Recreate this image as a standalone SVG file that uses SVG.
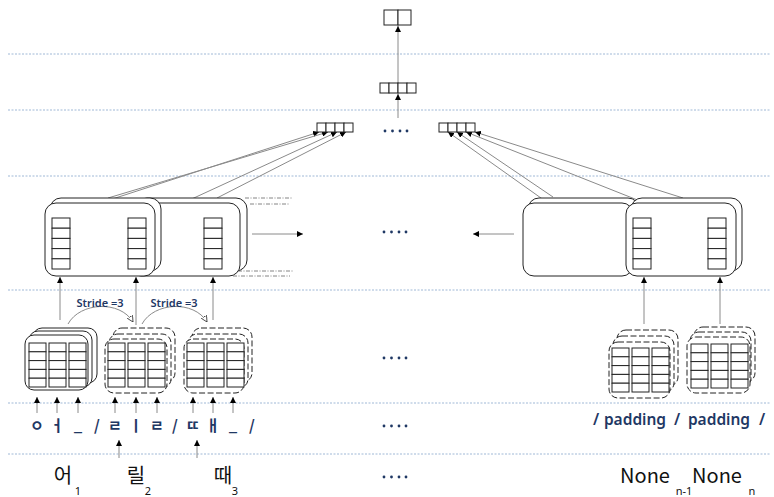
<svg xmlns="http://www.w3.org/2000/svg" width="774" height="497" viewBox="0 0 774 497">
<defs>
<style>
.guide{stroke:#9fb8d6;stroke-width:1;stroke-dasharray:2,1.5;fill:none}
.box{fill:#fff;stroke:#222;stroke-width:1}
.dbox{fill:#fff;stroke:#222;stroke-width:1;stroke-dasharray:6,2.5}
.cell{fill:#fff;stroke:#222;stroke-width:1}
.con{stroke:#8a8a8a;stroke-width:1;fill:none}
.dd{stroke:#666;stroke-width:0.8;stroke-dasharray:4,1.5,1,1.5;fill:none}
.dot{fill:#1f3864}
.jamo{font-family:"Noto Sans CJK KR","Noto Sans",sans-serif;font-size:15px;font-weight:bold;fill:#1f3864;text-anchor:middle}
.pad{font-family:"Noto Sans","Noto Sans CJK KR",sans-serif;font-size:15.5px;font-weight:600;fill:#1f3864;text-anchor:middle}
.syl{font-family:"Noto Sans CJK KR","Noto Sans",sans-serif;font-size:20px;fill:#111;text-anchor:middle}
.sub{font-family:"Noto Sans","Noto Sans CJK KR",sans-serif;font-size:11px;fill:#111;text-anchor:middle}
.stride{font-family:"Noto Sans","Open Sans",sans-serif;font-size:11px;font-weight:600;fill:#1f3864;text-anchor:middle}
</style>
<marker id="ah" viewBox="0 0 10 10" refX="10" refY="5" markerWidth="6" markerHeight="6" markerUnits="userSpaceOnUse" orient="auto"><path d="M0,0 L10,5 L0,10 z" fill="#000"/></marker>
<marker id="oh" viewBox="0 0 10 10" refX="10" refY="5" markerWidth="6" markerHeight="6" markerUnits="userSpaceOnUse" orient="auto"><path d="M0,0 L10,5 L0,10 z" fill="#fff" stroke="#222" stroke-width="1.2"/></marker>
<g id="col5"><rect class="cell" x="0" y="0" width="18" height="10.2"/><rect class="cell" x="0" y="10.2" width="18" height="10.2"/><rect class="cell" x="0" y="20.4" width="18" height="10.2"/><rect class="cell" x="0" y="30.6" width="18" height="10.2"/><rect class="cell" x="0" y="40.8" width="18" height="10.2"/></g>
<g id="grid"><g id="gcol"><rect class="cell" x="0" y="0" width="17" height="8.8"/><rect class="cell" x="0" y="8.8" width="17" height="8.8"/><rect class="cell" x="0" y="17.6" width="17" height="8.8"/><rect class="cell" x="0" y="26.4" width="17" height="8.8"/><rect class="cell" x="0" y="35.2" width="17" height="8.8"/></g><use href="#gcol" x="20"/><use href="#gcol" x="40"/></g>
</defs>
<rect width="774" height="497" fill="#fff"/>

<g id="guides">
<line class="guide" x1="8" y1="54" x2="770" y2="54"/>
<line class="guide" x1="8" y1="110" x2="770" y2="110"/>
<line class="guide" x1="8" y1="176" x2="770" y2="176"/>
<line class="guide" x1="8" y1="290" x2="770" y2="290"/>
<line class="guide" x1="8" y1="403" x2="770" y2="403"/>
<line class="guide" x1="8" y1="454" x2="770" y2="454"/>
</g>

<g id="connectors">
<line class="con" x1="398" y1="83" x2="398" y2="26" marker-end="url(#ah)"/>
<line class="con" x1="398" y1="118" x2="398" y2="94" marker-end="url(#ah)"/>
<line class="con" x1="100" y1="203" x2="319" y2="132" marker-end="url(#ah)"/>
<line class="con" x1="108" y1="198" x2="328" y2="132" marker-end="url(#ah)"/>
<line class="con" x1="183" y1="203" x2="337" y2="132" marker-end="url(#ah)"/>
<line class="con" x1="217" y1="198" x2="346" y2="132" marker-end="url(#ah)"/>
<line class="con" x1="548" y1="203" x2="448" y2="132" marker-end="url(#ah)"/>
<line class="con" x1="553" y1="197" x2="457" y2="132" marker-end="url(#ah)"/>
<line class="con" x1="645" y1="203" x2="466" y2="132" marker-end="url(#ah)"/>
<line class="con" x1="683" y1="198" x2="475" y2="132" marker-end="url(#ah)"/>
<line class="con" x1="252" y1="234" x2="303" y2="234" marker-end="url(#ah)"/>
<line class="con" x1="514" y1="234" x2="473" y2="234" marker-end="url(#ah)"/>
<line class="con" x1="60" y1="320" x2="60" y2="277" marker-end="url(#ah)"/>
<line class="con" x1="136" y1="325" x2="136" y2="277" marker-end="url(#ah)"/>
<line class="con" x1="213" y1="320" x2="213" y2="277" marker-end="url(#ah)"/>
<line class="con" x1="644" y1="324" x2="644" y2="277" marker-end="url(#ah)"/>
<line class="con" x1="720" y1="324" x2="720" y2="277" marker-end="url(#ah)"/>
<path class="con" d="M68,324 C80,302 120,300 133,322" stroke="#222" marker-end="url(#oh)"/>
<path class="con" d="M142,324 C154,302 194,300 207,322" stroke="#222" marker-end="url(#oh)"/>
<line class="con" x1="37" y1="413" x2="37" y2="397" marker-end="url(#ah)"/>
<line class="con" x1="57" y1="413" x2="57" y2="397" marker-end="url(#ah)"/>
<line class="con" x1="78" y1="413" x2="78" y2="397" marker-end="url(#ah)"/>
<line class="con" x1="115" y1="413" x2="115" y2="397" marker-end="url(#ah)"/>
<line class="con" x1="136" y1="413" x2="136" y2="397" marker-end="url(#ah)"/>
<line class="con" x1="157" y1="413" x2="157" y2="397" marker-end="url(#ah)"/>
<line class="con" x1="193" y1="413" x2="193" y2="397" marker-end="url(#ah)"/>
<line class="con" x1="213" y1="413" x2="213" y2="397" marker-end="url(#ah)"/>
<line class="con" x1="233" y1="413" x2="233" y2="397" marker-end="url(#ah)"/>
<line class="con" x1="119" y1="458" x2="119" y2="440" marker-end="url(#ah)"/>
<line class="con" x1="197" y1="458" x2="197" y2="440" marker-end="url(#ah)"/>
</g>

<g id="top-out">
<rect class="cell" x="384" y="10" width="14" height="15"/><rect class="cell" x="398" y="10" width="13" height="15"/>
</g>
<g id="fc">
<rect class="cell" x="380" y="83" width="9" height="10"/><rect class="cell" x="389" y="83" width="9" height="10"/><rect class="cell" x="398" y="83" width="9" height="10"/><rect class="cell" x="407" y="83" width="9" height="10"/>
</g>
<g id="pool-left">
<rect class="cell" x="317" y="123" width="9" height="9"/><rect class="cell" x="326" y="123" width="9" height="9"/><rect class="cell" x="335" y="123" width="9" height="9"/><rect class="cell" x="344" y="123" width="9" height="9"/>
</g>
<g id="pool-right">
<rect class="cell" x="439" y="123" width="9" height="9"/><rect class="cell" x="448" y="123" width="9" height="9"/><rect class="cell" x="457" y="123" width="9" height="9"/><rect class="cell" x="466" y="123" width="9" height="9"/>
</g>

<g id="dots">
<g class="dot"><circle cx="385" cy="131" r="1.4"/><circle cx="392.5" cy="131" r="1.4"/><circle cx="400" cy="131" r="1.4"/><circle cx="407" cy="131" r="1.4"/></g>
<g class="dot"><circle cx="384" cy="232" r="1.4"/><circle cx="391.5" cy="232" r="1.4"/><circle cx="399" cy="232" r="1.4"/><circle cx="406" cy="232" r="1.4"/></g>
<g class="dot"><circle cx="384" cy="358" r="1.4"/><circle cx="391.5" cy="358" r="1.4"/><circle cx="399" cy="358" r="1.4"/><circle cx="406" cy="358" r="1.4"/></g>
<g class="dot"><circle cx="384" cy="426" r="1.4"/><circle cx="391.5" cy="426" r="1.4"/><circle cx="399" cy="426" r="1.4"/><circle cx="406" cy="426" r="1.4"/></g>
<g class="dot"><circle cx="384" cy="477" r="1.4"/><circle cx="391.5" cy="477" r="1.4"/><circle cx="399" cy="477" r="1.4"/><circle cx="406" cy="477" r="1.4"/></g>
</g>

<g id="conv-left-2">
<rect class="box" x="136" y="198" width="111" height="73" rx="11"/>
<rect class="box" x="130" y="203" width="110" height="73" rx="11"/>
<use href="#col5" x="204" y="218"/>
<line class="dd" x1="245" y1="198" x2="293" y2="198"/>
<line class="dd" x1="250" y1="204" x2="290" y2="204"/>
<line class="dd" x1="238" y1="271" x2="293" y2="271"/>
<line class="dd" x1="233" y1="276" x2="290" y2="276"/>
</g>
<g id="conv-left-1">
<rect class="box" x="50" y="198" width="111" height="73" rx="11"/>
<rect class="box" x="45" y="203" width="110" height="73" rx="11"/>
<use href="#col5" x="52" y="218"/>
<use href="#col5" x="128" y="218"/>
</g>
<g id="conv-right-1">
<rect class="box" x="528" y="198" width="111" height="73" rx="11"/>
<rect class="box" x="523" y="203" width="110" height="73" rx="11"/>
</g>
<g id="conv-right-2">
<rect class="box" x="631" y="198" width="111" height="73" rx="11"/>
<rect class="box" x="626" y="203" width="110" height="73" rx="11"/>
<use href="#col5" x="633" y="218"/>
<use href="#col5" x="708" y="218"/>
</g>

<g id="stride-labels">
<text class="stride" x="100" y="307">Stride =3</text>
<text class="stride" x="174" y="307">Stride =3</text>
</g>

<g id="cube1">
<rect class="box" x="33" y="328" width="64" height="55" rx="9"/>
<rect class="box" x="29" y="331" width="63" height="56" rx="9"/>
<rect class="box" x="25" y="335" width="63" height="55" rx="9"/>
<use href="#grid" x="29" y="343"/>
</g>
<g id="cube2">
<rect class="dbox" x="113" y="328" width="62" height="54" rx="9"/>
<rect class="dbox" x="109" y="334" width="62" height="54" rx="9"/>
<rect class="dbox" x="105" y="339" width="62" height="54" rx="9"/>
<use href="#grid" x="108" y="343"/>
</g>
<g id="cube3">
<rect class="dbox" x="192" y="328" width="60" height="54" rx="9"/>
<rect class="dbox" x="188" y="334" width="60" height="54" rx="9"/>
<rect class="dbox" x="184" y="339" width="60" height="54" rx="9"/>
<use href="#grid" x="187" y="343"/>
</g>
<g id="cube-n1">
<rect class="dbox" x="617" y="330" width="61" height="56" rx="9"/>
<rect class="dbox" x="613" y="336" width="61" height="56" rx="9"/>
<rect class="dbox" x="609" y="342" width="61" height="56" rx="9"/>
<use href="#grid" x="612" y="348"/>
</g>
<g id="cube-n">
<rect class="dbox" x="694" y="327" width="61" height="55" rx="9"/>
<rect class="dbox" x="690" y="332" width="61" height="55" rx="9"/>
<rect class="dbox" x="687" y="337" width="63" height="56" rx="9"/>
<use href="#grid" x="691" y="344"/>
</g>

<g id="jamo">
<text class="jamo" x="37" y="431">ㅇ</text>
<text class="jamo" x="57" y="431">ㅓ</text>
<text class="jamo" x="78" y="431">_</text>
<text class="jamo" x="97" y="431">/</text>
<text class="jamo" x="115" y="431">ㄹ</text>
<text class="jamo" x="136" y="431">ㅣ</text>
<text class="jamo" x="157" y="431">ㄹ</text>
<text class="jamo" x="175" y="431">/</text>
<text class="jamo" x="193" y="431">ㄸ</text>
<text class="jamo" x="213" y="431">ㅐ</text>
<text class="jamo" x="233" y="431">_</text>
<text class="jamo" x="252" y="431">/</text>
</g>
<g id="padding">
<text class="pad" x="596" y="425">/</text>
<text class="pad" x="635" y="425">padding</text>
<text class="pad" x="677" y="425">/</text>
<text class="pad" x="719" y="425">padding</text>
<text class="pad" x="762" y="425">/</text>
</g>
<g id="syllables">
<text class="syl" x="63" y="483">어</text><text class="sub" x="78" y="495">1</text>
<text class="syl" x="136" y="483">릴</text><text class="sub" x="148" y="495">2</text>
<text class="syl" x="223" y="483">때</text><text class="sub" x="235" y="495">3</text>
<text class="syl" x="645" y="483">None</text><text class="sub" x="684" y="495">n-1</text>
<text class="syl" x="717" y="483">None</text><text class="sub" x="752" y="495">n</text>
</g>
</svg>
